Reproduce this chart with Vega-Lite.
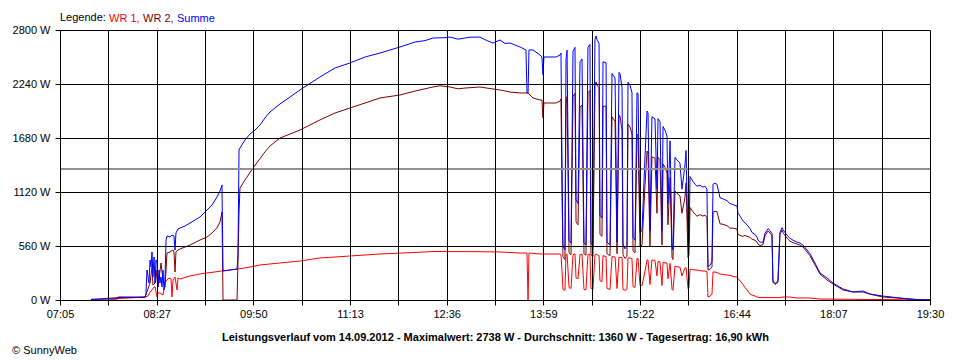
{
"$schema": "https://vega.github.io/schema/vega-lite/v6.json",
"width": 870, "height": 270,
"autosize": "none",
"padding": {"left": 60, "top": 30, "right": 30, "bottom": 60},
"background": "white",
"config": {"font": "Liberation Sans", "view": {"stroke": null}},
"title": {"text": "© SunnyWeb", "orient": "bottom", "anchor": "start", "frame": "bounds", "fontSize": 11, "fontWeight": "normal", "offset": 3, "color": "black"},
"data": {"values": [
{"r":"WR 1","t":467.8,"w":10},{"r":"WR 1","t":497.8,"w":31},{"r":"WR 1","t":500.4,"w":41},{"r":"WR 1","t":502.1,"w":83},{"r":"WR 1","t":503.8,"w":104},{"r":"WR 1","t":505.5,"w":135},{"r":"WR 1","t":506.4,"w":135},{"r":"WR 1","t":508.1,"w":31},{"r":"WR 1","t":508.9,"w":73},{"r":"WR 1","t":510.6,"w":73},{"r":"WR 1","t":513.2,"w":52},{"r":"WR 1","t":514.9,"w":176},{"r":"WR 1","t":516.6,"w":207},{"r":"WR 1","t":518.3,"w":228},{"r":"WR 1","t":520.1,"w":218},{"r":"WR 1","t":520.9,"w":31},{"r":"WR 1","t":521.8,"w":207},{"r":"WR 1","t":523.5,"w":239},{"r":"WR 1","t":525.2,"w":104},{"r":"WR 1","t":526.0,"w":228},{"r":"WR 1","t":527.8,"w":218},{"r":"WR 1","t":536.3,"w":249},{"r":"WR 1","t":544.9,"w":270},{"r":"WR 1","t":550.9,"w":280},{"r":"WR 1","t":563.7,"w":301},{"r":"WR 1","t":577.4,"w":321},{"r":"WR 1","t":587.7,"w":342},{"r":"WR 1","t":596.3,"w":363},{"r":"WR 1","t":613.4,"w":384},{"r":"WR 1","t":630.5,"w":404},{"r":"WR 1","t":647.6,"w":436},{"r":"WR 1","t":673.3,"w":456},{"r":"WR 1","t":699.0,"w":477},{"r":"WR 1","t":729.0,"w":493},{"r":"WR 1","t":744.4,"w":503},{"r":"WR 1","t":784.6,"w":501},{"r":"WR 1","t":801.8,"w":498},{"r":"WR 1","t":818.9,"w":487},{"r":"WR 1","t":824.9,"w":487},{"r":"WR 1","t":825.8,"w":0},{"r":"WR 1","t":826.6,"w":487},{"r":"WR 1","t":836.0,"w":477},{"r":"WR 1","t":849.7,"w":477},
{"r":"WR 1","t":853.2,"w":477},{"r":"WR 1","t":854.0,"w":470},{"r":"WR 1","t":854.9,"w":300},{"r":"WR 1","t":855.7,"w":110},{"r":"WR 1","t":857.4,"w":100},{"r":"WR 1","t":858.3,"w":470},{"r":"WR 1","t":859.2,"w":477},{"r":"WR 1","t":860.9,"w":130},{"r":"WR 1","t":862.6,"w":120},{"r":"WR 1","t":864.3,"w":470},{"r":"WR 1","t":866.0,"w":477},{"r":"WR 1","t":866.9,"w":230},{"r":"WR 1","t":868.6,"w":220},{"r":"WR 1","t":870.3,"w":470},{"r":"WR 1","t":872.0,"w":477},{"r":"WR 1","t":873.7,"w":110},{"r":"WR 1","t":875.4,"w":105},{"r":"WR 1","t":877.1,"w":470},{"r":"WR 1","t":878.8,"w":477},{"r":"WR 1","t":879.7,"w":120},{"r":"WR 1","t":881.4,"w":110},{"r":"WR 1","t":883.1,"w":470},{"r":"WR 1","t":884.0,"w":477},{"r":"WR 1","t":884.8,"w":470},{"r":"WR 1","t":886.6,"w":460},{"r":"WR 1","t":887.4,"w":200},{"r":"WR 1","t":889.1,"w":190},{"r":"WR 1","t":890.0,"w":460},{"r":"WR 1","t":892.6,"w":450},{"r":"WR 1","t":893.4,"w":120},{"r":"WR 1","t":896.0,"w":110},{"r":"WR 1","t":897.7,"w":450},{"r":"WR 1","t":900.3,"w":446},{"r":"WR 1","t":902.0,"w":120},{"r":"WR 1","t":903.7,"w":446},{"r":"WR 1","t":904.5,"w":440},{"r":"WR 1","t":906.3,"w":440},{"r":"WR 1","t":907.1,"w":110},{"r":"WR 1","t":908.8,"w":100},{"r":"WR 1","t":910.5,"w":110},{"r":"WR 1","t":911.4,"w":436},{"r":"WR 1","t":913.1,"w":436},{"r":"WR 1","t":914.8,"w":430},{"r":"WR 1","t":915.7,"w":140},{"r":"WR 1","t":917.4,"w":130},{"r":"WR 1","t":919.1,"w":430},{"r":"WR 1","t":920.0,"w":430},{"r":"WR 1","t":921.7,"w":150},{"r":"WR 1","t":923.4,"w":150},{"r":"WR 1","t":926.0,"w":300},{"r":"WR 1","t":927.7,"w":415},{"r":"WR 1","t":928.5,"w":415},{"r":"WR 1","t":930.2,"w":160},{"r":"WR 1","t":931.9,"w":415},{"r":"WR 1","t":934.5,"w":410},{"r":"WR 1","t":936.2,"w":250},{"r":"WR 1","t":937.1,"w":400},{"r":"WR 1","t":938.8,"w":395},{"r":"WR 1","t":940.5,"w":150},{"r":"WR 1","t":941.4,"w":390},{"r":"WR 1","t":943.1,"w":384},{"r":"WR 1","t":944.8,"w":384},{"r":"WR 1","t":945.6,"w":220},{"r":"WR 1","t":947.4,"w":380},{"r":"WR 1","t":949.1,"w":110},{"r":"WR 1","t":949.9,"w":100},{"r":"WR 1","t":951.6,"w":350},{"r":"WR 1","t":953.4,"w":345},{"r":"WR 1","t":955.9,"w":340},{"r":"WR 1","t":957.6,"w":250},{"r":"WR 1","t":960.2,"w":335},{"r":"WR 1","t":961.1,"w":335},{"r":"WR 1","t":962.8,"w":120},{"r":"WR 1","t":963.6,"w":130},{"r":"WR 1","t":964.5,"w":320},{"r":"WR 1","t":967.0,"w":315},{"r":"WR 1","t":968.8,"w":311},{"r":"WR 1","t":970.5,"w":311},{"r":"WR 1","t":973.0,"w":305},{"r":"WR 1","t":975.6,"w":300},{"r":"WR 1","t":977.3,"w":300},{"r":"WR 1","t":979.0,"w":295},{"r":"WR 1","t":979.9,"w":31},{"r":"WR 1","t":981.6,"w":40},{"r":"WR 1","t":983.3,"w":60},{"r":"WR 1","t":984.2,"w":290},{"r":"WR 1","t":985.9,"w":290},{"r":"WR 1","t":987.6,"w":285},{"r":"WR 1","t":988.5,"w":280},{"r":"WR 1","t":990.2,"w":270},{"r":"WR 1","t":992.7,"w":265},{"r":"WR 1","t":994.4,"w":262},{"r":"WR 1","t":996.2,"w":259},{"r":"WR 1","t":998.7,"w":255},{"r":"WR 1","t":1001.3,"w":245},{"r":"WR 1","t":1003.0,"w":239},{"r":"WR 1","t":1004.7,"w":239},{"r":"WR 1","t":1005.6,"w":220},{"r":"WR 1","t":1007.3,"w":200},{"r":"WR 1","t":1009.9,"w":160},{"r":"WR 1","t":1011.6,"w":130},{"r":"WR 1","t":1013.3,"w":104},{"r":"WR 1","t":1015.9,"w":62},{"r":"WR 1","t":1017.6,"w":52},{"r":"WR 1","t":1020.1,"w":41},{"r":"WR 1","t":1021.9,"w":31},{"r":"WR 1","t":1024.4,"w":25},{"r":"WR 1","t":1034.7,"w":25},{"r":"WR 1","t":1041.5,"w":25},{"r":"WR 1","t":1044.1,"w":31},{"r":"WR 1","t":1045.8,"w":31},{"r":"WR 1","t":1050.1,"w":31},{"r":"WR 1","t":1052.7,"w":25},{"r":"WR 1","t":1056.1,"w":21},{"r":"WR 1","t":1067.2,"w":21},{"r":"WR 1","t":1071.5,"w":15},{"r":"WR 1","t":1075.8,"w":10},{"r":"WR 1","t":1095.5,"w":8},{"r":"WR 1","t":1118.6,"w":5},{"r":"WR 1","t":1129.7,"w":5},{"r":"WR 1","t":1144.3,"w":3},{"r":"WR 1","t":1158.9,"w":0},{"r":"WR 1","t":1170,"w":0},
{"r":"WR 2","t":451.5,"w":5},{"r":"WR 2","t":474.7,"w":25},{"r":"WR 2","t":497.8,"w":25},{"r":"WR 2","t":502.1,"w":176},{"r":"WR 2","t":503.8,"w":342},{"r":"WR 2","t":504.6,"w":156},{"r":"WR 2","t":506.4,"w":176},{"r":"WR 2","t":507.2,"w":311},{"r":"WR 2","t":508.9,"w":135},{"r":"WR 2","t":511.5,"w":384},{"r":"WR 2","t":513.2,"w":207},{"r":"WR 2","t":514.9,"w":135},{"r":"WR 2","t":515.8,"w":311},{"r":"WR 2","t":516.6,"w":487},{"r":"WR 2","t":519.2,"w":498},{"r":"WR 2","t":521.8,"w":519},{"r":"WR 2","t":522.6,"w":498},{"r":"WR 2","t":523.5,"w":290},{"r":"WR 2","t":524.3,"w":498},{"r":"WR 2","t":526.0,"w":519},{"r":"WR 2","t":527.8,"w":529},{"r":"WR 2","t":536.3,"w":570},{"r":"WR 2","t":544.9,"w":622},{"r":"WR 2","t":550.9,"w":653},{"r":"WR 2","t":555.2,"w":695},{"r":"WR 2","t":559.4,"w":747},{"r":"WR 2","t":562.0,"w":809},{"r":"WR 2","t":562.9,"w":861},{"r":"WR 2","t":563.7,"w":913},{"r":"WR 2","t":564.6,"w":0},{"r":"WR 2","t":576.6,"w":0},{"r":"WR 2","t":577.4,"w":400},{"r":"WR 2","t":578.3,"w":900},{"r":"WR 2","t":579.1,"w":1161},{"r":"WR 2","t":583.4,"w":1244},{"r":"WR 2","t":590.3,"w":1369},{"r":"WR 2","t":600.5,"w":1535},{"r":"WR 2","t":604.8,"w":1597},{"r":"WR 2","t":613.4,"w":1680},{"r":"WR 2","t":622.0,"w":1721},{"r":"WR 2","t":630.5,"w":1763},{"r":"WR 2","t":647.6,"w":1867},{"r":"WR 2","t":660.5,"w":1939},{"r":"WR 2","t":673.3,"w":1991},{"r":"WR 2","t":686.2,"w":2043},{"r":"WR 2","t":699.0,"w":2095},{"r":"WR 2","t":716.1,"w":2126},{"r":"WR 2","t":729.0,"w":2167},{"r":"WR 2","t":744.4,"w":2209},{"r":"WR 2","t":750.4,"w":2222},{"r":"WR 2","t":759.0,"w":2209},{"r":"WR 2","t":765.8,"w":2190},{"r":"WR 2","t":771.8,"w":2198},{"r":"WR 2","t":784.6,"w":2209},{"r":"WR 2","t":795.8,"w":2188},{"r":"WR 2","t":801.8,"w":2178},{"r":"WR 2","t":810.3,"w":2157},{"r":"WR 2","t":818.9,"w":2147},{"r":"WR 2","t":825.8,"w":2147},{"r":"WR 2","t":830.0,"w":2095},{"r":"WR 2","t":836.0,"w":2074},{"r":"WR 2","t":837.7,"w":2074},{"r":"WR 2","t":838.6,"w":1887},{"r":"WR 2","t":839.4,"w":2043},{"r":"WR 2","t":849.7,"w":2043},
{"r":"WR 2","t":853.2,"w":2063},{"r":"WR 2","t":854.0,"w":2085},{"r":"WR 2","t":854.9,"w":1100},{"r":"WR 2","t":855.7,"w":450},{"r":"WR 2","t":857.4,"w":420},{"r":"WR 2","t":858.3,"w":2020},{"r":"WR 2","t":859.2,"w":2110},{"r":"WR 2","t":860.9,"w":490},{"r":"WR 2","t":862.6,"w":470},{"r":"WR 2","t":864.3,"w":2110},{"r":"WR 2","t":866.0,"w":2143},{"r":"WR 2","t":866.9,"w":810},{"r":"WR 2","t":868.6,"w":780},{"r":"WR 2","t":870.3,"w":2000},{"r":"WR 2","t":872.0,"w":2023},{"r":"WR 2","t":873.7,"w":480},{"r":"WR 2","t":875.4,"w":465},{"r":"WR 2","t":877.1,"w":2150},{"r":"WR 2","t":878.8,"w":2173},{"r":"WR 2","t":879.7,"w":470},{"r":"WR 2","t":881.4,"w":450},{"r":"WR 2","t":883.1,"w":2230},{"r":"WR 2","t":884.0,"w":2261},{"r":"WR 2","t":884.8,"w":2230},{"r":"WR 2","t":886.6,"w":2200},{"r":"WR 2","t":887.4,"w":680},{"r":"WR 2","t":889.1,"w":660},{"r":"WR 2","t":890.0,"w":2010},{"r":"WR 2","t":892.6,"w":2010},{"r":"WR 2","t":893.4,"w":480},{"r":"WR 2","t":896.0,"w":460},{"r":"WR 2","t":897.7,"w":1900},{"r":"WR 2","t":900.3,"w":1854},{"r":"WR 2","t":902.0,"w":480},{"r":"WR 2","t":903.7,"w":1914},{"r":"WR 2","t":904.5,"w":1910},{"r":"WR 2","t":906.3,"w":1760},{"r":"WR 2","t":907.1,"w":470},{"r":"WR 2","t":908.8,"w":430},{"r":"WR 2","t":910.5,"w":450},{"r":"WR 2","t":911.4,"w":1824},{"r":"WR 2","t":913.1,"w":1794},{"r":"WR 2","t":914.8,"w":1720},{"r":"WR 2","t":915.7,"w":510},{"r":"WR 2","t":917.4,"w":490},{"r":"WR 2","t":919.1,"w":1720},{"r":"WR 2","t":920.0,"w":1710},{"r":"WR 2","t":921.7,"w":550},{"r":"WR 2","t":923.4,"w":570},{"r":"WR 2","t":926.0,"w":1200},{"r":"WR 2","t":927.7,"w":1545},{"r":"WR 2","t":928.5,"w":1525},{"r":"WR 2","t":930.2,"w":560},{"r":"WR 2","t":931.9,"w":1485},{"r":"WR 2","t":934.5,"w":1470},{"r":"WR 2","t":936.2,"w":900},{"r":"WR 2","t":937.1,"w":1480},{"r":"WR 2","t":938.8,"w":1455},{"r":"WR 2","t":940.5,"w":570},{"r":"WR 2","t":941.4,"w":1410},{"r":"WR 2","t":943.1,"w":1376},{"r":"WR 2","t":944.8,"w":1316},{"r":"WR 2","t":945.6,"w":780},{"r":"WR 2","t":947.4,"w":1270},{"r":"WR 2","t":949.1,"w":440},{"r":"WR 2","t":949.9,"w":420},{"r":"WR 2","t":951.6,"w":1130},{"r":"WR 2","t":953.4,"w":1105},{"r":"WR 2","t":955.9,"w":1080},{"r":"WR 2","t":957.6,"w":900},{"r":"WR 2","t":960.2,"w":1065},{"r":"WR 2","t":961.1,"w":1215},{"r":"WR 2","t":962.8,"w":440},{"r":"WR 2","t":963.6,"w":470},{"r":"WR 2","t":964.5,"w":960},{"r":"WR 2","t":967.0,"w":915},{"r":"WR 2","t":968.8,"w":889},{"r":"WR 2","t":970.5,"w":869},{"r":"WR 2","t":973.0,"w":885},{"r":"WR 2","t":975.6,"w":870},{"r":"WR 2","t":977.3,"w":880},{"r":"WR 2","t":979.0,"w":855},{"r":"WR 2","t":979.9,"w":311},{"r":"WR 2","t":981.6,"w":320},{"r":"WR 2","t":983.3,"w":340},{"r":"WR 2","t":984.2,"w":910},{"r":"WR 2","t":985.9,"w":920},{"r":"WR 2","t":987.6,"w":915},{"r":"WR 2","t":988.5,"w":870},{"r":"WR 2","t":990.2,"w":790},{"r":"WR 2","t":992.7,"w":785},{"r":"WR 2","t":994.4,"w":778},{"r":"WR 2","t":996.2,"w":771},{"r":"WR 2","t":998.7,"w":745},{"r":"WR 2","t":1001.3,"w":745},{"r":"WR 2","t":1003.0,"w":741},{"r":"WR 2","t":1004.7,"w":736},{"r":"WR 2","t":1005.6,"w":680},{"r":"WR 2","t":1007.3,"w":670},{"r":"WR 2","t":1009.9,"w":660},{"r":"WR 2","t":1011.6,"w":670},{"r":"WR 2","t":1013.3,"w":660},{"r":"WR 2","t":1015.9,"w":650},{"r":"WR 2","t":1017.6,"w":630},{"r":"WR 2","t":1020.1,"w":620},{"r":"WR 2","t":1021.9,"w":600},{"r":"WR 2","t":1022.7,"w":580},{"r":"WR 2","t":1024.4,"w":565},{"r":"WR 2","t":1027.0,"w":575},{"r":"WR 2","t":1028.7,"w":665},{"r":"WR 2","t":1031.3,"w":715},{"r":"WR 2","t":1033.0,"w":695},{"r":"WR 2","t":1034.7,"w":665},{"r":"WR 2","t":1035.5,"w":185},{"r":"WR 2","t":1037.3,"w":160},{"r":"WR 2","t":1039.8,"w":185},{"r":"WR 2","t":1041.5,"w":680},{"r":"WR 2","t":1043.3,"w":725},{"r":"WR 2","t":1044.1,"w":700},{"r":"WR 2","t":1045.8,"w":670},{"r":"WR 2","t":1048.4,"w":630},{"r":"WR 2","t":1050.1,"w":610},{"r":"WR 2","t":1052.7,"w":595},{"r":"WR 2","t":1056.1,"w":580},{"r":"WR 2","t":1058.7,"w":570},{"r":"WR 2","t":1061.2,"w":550},{"r":"WR 2","t":1064.7,"w":498},{"r":"WR 2","t":1067.2,"w":460},{"r":"WR 2","t":1071.5,"w":365},{"r":"WR 2","t":1075.8,"w":270},{"r":"WR 2","t":1081.8,"w":207},{"r":"WR 2","t":1086.9,"w":166},{"r":"WR 2","t":1095.5,"w":104},{"r":"WR 2","t":1104.0,"w":83},{"r":"WR 2","t":1112.6,"w":83},{"r":"WR 2","t":1118.6,"w":60},{"r":"WR 2","t":1129.7,"w":31},{"r":"WR 2","t":1144.3,"w":18},{"r":"WR 2","t":1158.9,"w":3},{"r":"WR 2","t":1170,"w":0},
{"r":"Summe","t":451.5,"w":7},{"r":"Summe","t":474.0,"w":10},{"r":"Summe","t":474.7,"w":31},{"r":"Summe","t":497.8,"w":31},{"r":"Summe","t":498.6,"w":62},{"r":"Summe","t":499.5,"w":311},{"r":"Summe","t":501.2,"w":176},{"r":"Summe","t":502.1,"w":415},{"r":"Summe","t":502.9,"w":342},{"r":"Summe","t":503.8,"w":498},{"r":"Summe","t":504.6,"w":239},{"r":"Summe","t":505.5,"w":446},{"r":"Summe","t":506.4,"w":176},{"r":"Summe","t":507.2,"w":415},{"r":"Summe","t":508.1,"w":384},{"r":"Summe","t":508.9,"w":135},{"r":"Summe","t":509.8,"w":311},{"r":"Summe","t":510.6,"w":176},{"r":"Summe","t":511.5,"w":239},{"r":"Summe","t":512.3,"w":135},{"r":"Summe","t":513.2,"w":311},{"r":"Summe","t":514.1,"w":104},{"r":"Summe","t":514.9,"w":207},{"r":"Summe","t":515.8,"w":622},{"r":"Summe","t":516.6,"w":664},{"r":"Summe","t":519.2,"w":653},{"r":"Summe","t":520.9,"w":674},{"r":"Summe","t":522.6,"w":664},{"r":"Summe","t":523.5,"w":519},{"r":"Summe","t":524.3,"w":695},{"r":"Summe","t":526.0,"w":736},{"r":"Summe","t":527.8,"w":747},{"r":"Summe","t":532.0,"w":767},{"r":"Summe","t":536.3,"w":798},{"r":"Summe","t":540.6,"w":830},{"r":"Summe","t":544.9,"w":861},{"r":"Summe","t":550.9,"w":933},{"r":"Summe","t":555.2,"w":985},{"r":"Summe","t":559.4,"w":1068},{"r":"Summe","t":562.0,"w":1130},{"r":"Summe","t":562.9,"w":1161},{"r":"Summe","t":563.7,"w":1193},{"r":"Summe","t":564.6,"w":301},{"r":"Summe","t":570.6,"w":311},{"r":"Summe","t":576.6,"w":321},{"r":"Summe","t":577.4,"w":467},{"r":"Summe","t":578.3,"w":1555},{"r":"Summe","t":579.1,"w":1576},{"r":"Summe","t":583.4,"w":1659},{"r":"Summe","t":587.7,"w":1721},{"r":"Summe","t":592.0,"w":1763},{"r":"Summe","t":596.3,"w":1815},{"r":"Summe","t":600.5,"w":1887},{"r":"Summe","t":604.8,"w":1950},{"r":"Summe","t":613.4,"w":2033},{"r":"Summe","t":622.0,"w":2105},{"r":"Summe","t":630.5,"w":2178},{"r":"Summe","t":647.6,"w":2313},{"r":"Summe","t":660.5,"w":2406},{"r":"Summe","t":673.3,"w":2458},{"r":"Summe","t":686.2,"w":2520},{"r":"Summe","t":699.0,"w":2561},{"r":"Summe","t":716.1,"w":2624},{"r":"Summe","t":729.0,"w":2675},{"r":"Summe","t":737.6,"w":2690},{"r":"Summe","t":744.4,"w":2717},{"r":"Summe","t":754.7,"w":2720},{"r":"Summe","t":759.0,"w":2727},{"r":"Summe","t":765.8,"w":2705},{"r":"Summe","t":771.8,"w":2717},{"r":"Summe","t":776.1,"w":2725},{"r":"Summe","t":784.6,"w":2727},{"r":"Summe","t":790.6,"w":2690},{"r":"Summe","t":795.8,"w":2665},{"r":"Summe","t":801.8,"w":2696},{"r":"Summe","t":806.1,"w":2660},{"r":"Summe","t":810.3,"w":2665},{"r":"Summe","t":818.9,"w":2624},{"r":"Summe","t":824.0,"w":2593},{"r":"Summe","t":824.9,"w":2147},{"r":"Summe","t":825.8,"w":2147},{"r":"Summe","t":826.6,"w":2593},{"r":"Summe","t":830.0,"w":2593},{"r":"Summe","t":836.0,"w":2541},{"r":"Summe","t":837.7,"w":2520},{"r":"Summe","t":838.6,"w":2333},{"r":"Summe","t":839.4,"w":2520},{"r":"Summe","t":849.7,"w":2520},
{"r":"Summe","t":853.2,"w":2540},{"r":"Summe","t":854.0,"w":2560},{"r":"Summe","t":854.9,"w":1400},{"r":"Summe","t":855.7,"w":560},{"r":"Summe","t":857.4,"w":520},{"r":"Summe","t":858.3,"w":2490},{"r":"Summe","t":859.2,"w":2590},{"r":"Summe","t":860.9,"w":620},{"r":"Summe","t":862.6,"w":590},{"r":"Summe","t":864.3,"w":2580},{"r":"Summe","t":866.0,"w":2620},{"r":"Summe","t":866.9,"w":1040},{"r":"Summe","t":868.6,"w":1000},{"r":"Summe","t":870.3,"w":2470},{"r":"Summe","t":872.0,"w":2500},{"r":"Summe","t":873.7,"w":590},{"r":"Summe","t":875.4,"w":570},{"r":"Summe","t":877.1,"w":2620},{"r":"Summe","t":878.8,"w":2650},{"r":"Summe","t":879.7,"w":590},{"r":"Summe","t":881.4,"w":560},{"r":"Summe","t":883.1,"w":2700},{"r":"Summe","t":884.0,"w":2738},{"r":"Summe","t":884.8,"w":2700},{"r":"Summe","t":886.6,"w":2660},{"r":"Summe","t":887.4,"w":880},{"r":"Summe","t":889.1,"w":850},{"r":"Summe","t":890.0,"w":2470},{"r":"Summe","t":892.6,"w":2460},{"r":"Summe","t":893.4,"w":600},{"r":"Summe","t":896.0,"w":570},{"r":"Summe","t":897.7,"w":2350},{"r":"Summe","t":900.3,"w":2300},{"r":"Summe","t":902.0,"w":600},{"r":"Summe","t":903.7,"w":2360},{"r":"Summe","t":904.5,"w":2350},{"r":"Summe","t":906.3,"w":2200},{"r":"Summe","t":907.1,"w":580},{"r":"Summe","t":908.8,"w":530},{"r":"Summe","t":910.5,"w":560},{"r":"Summe","t":911.4,"w":2260},{"r":"Summe","t":913.1,"w":2230},{"r":"Summe","t":914.8,"w":2150},{"r":"Summe","t":915.7,"w":650},{"r":"Summe","t":917.4,"w":620},{"r":"Summe","t":919.1,"w":2150},{"r":"Summe","t":920.0,"w":2140},{"r":"Summe","t":921.7,"w":700},{"r":"Summe","t":923.4,"w":720},{"r":"Summe","t":926.0,"w":1500},{"r":"Summe","t":927.7,"w":1960},{"r":"Summe","t":928.5,"w":1940},{"r":"Summe","t":930.2,"w":720},{"r":"Summe","t":931.9,"w":1900},{"r":"Summe","t":934.5,"w":1880},{"r":"Summe","t":936.2,"w":1150},{"r":"Summe","t":937.1,"w":1880},{"r":"Summe","t":938.8,"w":1850},{"r":"Summe","t":940.5,"w":720},{"r":"Summe","t":941.4,"w":1800},{"r":"Summe","t":943.1,"w":1760},{"r":"Summe","t":944.8,"w":1700},{"r":"Summe","t":945.6,"w":1000},{"r":"Summe","t":947.4,"w":1650},{"r":"Summe","t":949.1,"w":550},{"r":"Summe","t":949.9,"w":520},{"r":"Summe","t":951.6,"w":1480},{"r":"Summe","t":953.4,"w":1450},{"r":"Summe","t":955.9,"w":1420},{"r":"Summe","t":957.6,"w":1150},{"r":"Summe","t":960.2,"w":1400},{"r":"Summe","t":961.1,"w":1550},{"r":"Summe","t":962.8,"w":560},{"r":"Summe","t":963.6,"w":600},{"r":"Summe","t":964.5,"w":1280},{"r":"Summe","t":967.0,"w":1230},{"r":"Summe","t":968.8,"w":1200},{"r":"Summe","t":970.5,"w":1180},{"r":"Summe","t":973.0,"w":1190},{"r":"Summe","t":975.6,"w":1170},{"r":"Summe","t":977.3,"w":1180},{"r":"Summe","t":979.0,"w":1150},{"r":"Summe","t":979.9,"w":342},{"r":"Summe","t":981.6,"w":360},{"r":"Summe","t":983.3,"w":400},{"r":"Summe","t":984.2,"w":1200},{"r":"Summe","t":985.9,"w":1210},{"r":"Summe","t":987.6,"w":1200},{"r":"Summe","t":988.5,"w":1150},{"r":"Summe","t":990.2,"w":1060},{"r":"Summe","t":992.7,"w":1050},{"r":"Summe","t":994.4,"w":1040},{"r":"Summe","t":996.2,"w":1030},{"r":"Summe","t":998.7,"w":1000},{"r":"Summe","t":1001.3,"w":990},{"r":"Summe","t":1003.0,"w":980},{"r":"Summe","t":1004.7,"w":975},{"r":"Summe","t":1005.6,"w":900},{"r":"Summe","t":1007.3,"w":870},{"r":"Summe","t":1009.9,"w":820},{"r":"Summe","t":1011.6,"w":800},{"r":"Summe","t":1013.3,"w":780},{"r":"Summe","t":1015.9,"w":740},{"r":"Summe","t":1017.6,"w":700},{"r":"Summe","t":1020.1,"w":680},{"r":"Summe","t":1021.9,"w":650},{"r":"Summe","t":1022.7,"w":620},{"r":"Summe","t":1024.4,"w":600},{"r":"Summe","t":1027.0,"w":600},{"r":"Summe","t":1028.7,"w":690},{"r":"Summe","t":1031.3,"w":740},{"r":"Summe","t":1033.0,"w":720},{"r":"Summe","t":1034.7,"w":690},{"r":"Summe","t":1035.5,"w":200},{"r":"Summe","t":1037.3,"w":170},{"r":"Summe","t":1039.8,"w":200},{"r":"Summe","t":1041.5,"w":700},{"r":"Summe","t":1043.3,"w":750},{"r":"Summe","t":1044.1,"w":730},{"r":"Summe","t":1045.8,"w":700},{"r":"Summe","t":1048.4,"w":660},{"r":"Summe","t":1050.1,"w":640},{"r":"Summe","t":1052.7,"w":620},{"r":"Summe","t":1056.1,"w":600},{"r":"Summe","t":1058.7,"w":591},{"r":"Summe","t":1061.2,"w":570},{"r":"Summe","t":1064.7,"w":519},{"r":"Summe","t":1067.2,"w":480},{"r":"Summe","t":1071.5,"w":384},{"r":"Summe","t":1075.8,"w":280},{"r":"Summe","t":1081.8,"w":228},{"r":"Summe","t":1086.9,"w":176},{"r":"Summe","t":1095.5,"w":114},{"r":"Summe","t":1104.0,"w":83},{"r":"Summe","t":1112.6,"w":93},{"r":"Summe","t":1118.6,"w":62},{"r":"Summe","t":1129.7,"w":41},{"r":"Summe","t":1144.3,"w":21},{"r":"Summe","t":1158.9,"w":5},{"r":"Summe","t":1170,"w":0}
]},
"layer": [
{"transform": [{"filter": "datum.r == 'WR 1'"}],
 "mark": {"type": "line", "strokeWidth": 1, "strokeJoin": "bevel"},
 "encoding": {
  "x": {"field": "t", "type": "quantitative", "scale": {"domain": [425, 1170], "nice": false, "zero": false},
   "axis": {"values": [425,466.388889,507.777778,549.166667,590.555556,631.944444,673.333333,714.722222,756.111111,797.5,838.888889,880.277778,921.666667,963.055556,1004.444444,1045.833333,1087.222222,1128.611111,1170],
    "labelExpr": "round((datum.value-425)/41.388889) % 2 == 0 ? ['07:05','08:27','09:50','11:13','12:36','13:59','15:22','16:44','18:07','19:30'][round((datum.value-425)/82.777778)] : ''",
    "grid": true, "gridColor": "black", "gridOpacity": 1, "gridWidth": 1, "domain": false,
    "tickSize": 5, "tickColor": "black", "labelColor": "black", "labelFontSize": 11, "labelPadding": 3, "labelFlush": false, "labelOverlap": false,
    "title": "Leistungsverlauf vom 14.09.2012 - Maximalwert: 2738 W - Durchschnitt: 1360 W - Tagesertrag: 16,90 kWh",
    "titleFontSize": 11, "titleFontWeight": "bold", "titleColor": "black", "titlePadding": 12, "zindex": 1}},
  "y": {"field": "w", "type": "quantitative", "scale": {"domain": [0, 2800], "nice": false},
   "axis": {"values": [0,560,1120,1680,2240,2800], "labelExpr": "datum.value + ' W'", "grid": true, "gridColor": "black", "gridOpacity": 1, "gridWidth": 1, "domain": false,
    "tickSize": 5, "tickColor": "black", "labelColor": "black", "labelFontSize": 11, "labelPadding": 5, "title": null, "zindex": 1}},
  "color": {"field": "r", "type": "nominal", "scale": {"domain": ["WR 1", "WR 2", "Summe"], "range": ["#ff0000", "#800000", "#0000ff"]},
   "legend": {"orient": "top", "direction": "horizontal", "title": "Legende:", "titleOrient": "left", "titleFontWeight": "normal", "titleFontSize": 11, "titleColor": "black", "titlePadding": 3,
    "labelFontSize": 11, "labelColor": {"expr": "datum.value == 'WR 1' ? '#ff0000' : datum.value == 'WR 2' ? '#800000' : '#0000ff'"},
    "labelExpr": "datum.value == 'Summe' ? datum.label : datum.label + ','",
    "symbolSize": 0.01, "symbolOpacity": 0, "symbolStrokeWidth": 0, "labelOffset": -11, "columnPadding": 3, "gridAlign": "none", "offset": 6, "padding": 0}}
 }},
{"transform": [{"filter": "datum.r == 'WR 2'"}],
 "mark": {"type": "line", "strokeWidth": 1, "strokeJoin": "bevel"},
 "encoding": {
  "x": {"field": "t", "type": "quantitative"},
  "y": {"field": "w", "type": "quantitative"},
  "color": {"field": "r", "type": "nominal"}
 }},
{"transform": [{"filter": "datum.r == 'Summe'"}],
 "mark": {"type": "line", "strokeWidth": 1, "strokeJoin": "bevel"},
 "encoding": {
  "x": {"field": "t", "type": "quantitative"},
  "y": {"field": "w", "type": "quantitative"},
  "color": {"field": "r", "type": "nominal"}
 }},
{"mark": {"type": "rule", "color": "#909090", "strokeWidth": 1},
 "encoding": {"y": {"datum": 1360}}}
]
}
